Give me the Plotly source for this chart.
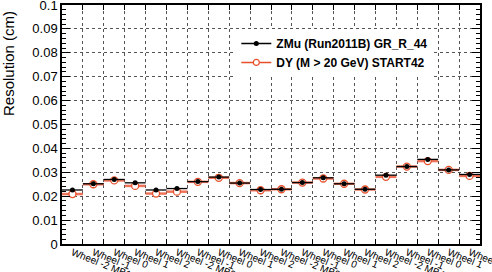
import numpy as np
import plotly.graph_objects as go

labels = ["Wheel -2 MB1", "Wheel -1", "Wheel 0", "Wheel 1", "Wheel 2",
          "Wheel -2 MB2", "Wheel -1", "Wheel 0", "Wheel 1", "Wheel 2",
          "Wheel -2 MB3", "Wheel -1", "Wheel 0", "Wheel 1", "Wheel 2",
          "Wheel -2 MB4", "Wheel -1", "Wheel 0", "Wheel 1", "Wheel 2"]

zmu = [0.0226, 0.0252, 0.0270, 0.0256, 0.0226,
       0.0232, 0.0261, 0.0280, 0.0255, 0.0228,
       0.0229, 0.0257, 0.0277, 0.0252, 0.0229,
       0.0288, 0.0324, 0.0354, 0.0310, 0.0291]

dy = [0.0209, 0.0250, 0.0266, 0.0243, 0.0211,
      0.0219, 0.0260, 0.0277, 0.0255, 0.0225,
      0.0229, 0.0257, 0.0274, 0.0252, 0.0228,
      0.0281, 0.0324, 0.0347, 0.0310, 0.0285]

y_tickvals = [0.0, 0.01, 0.02, 0.03, 0.04, 0.05, 0.06, 0.07, 0.08, 0.09, 0.1]
y_ticktext = ["0", "0.01", "0.02", "0.03", "0.04", "0.05", "0.06", "0.07", "0.08", "0.09", "0.1"]

name_zmu = "ZMu (Run2011B) GR_R_44"
name_dy = "DY (M > 20 GeV) START42"

nb = len(labels)
centers = np.arange(nb) + 0.5
halfw = [0.5] * nb
edges = list(range(nb + 1))

RED = "#e8502a"
FONT = "Liberation Sans, Arial, Helvetica, sans-serif"

fig = go.Figure()

# DY (drawn first)
fig.add_trace(go.Scatter(
    x=centers, y=dy, mode="markers", showlegend=False,
    marker=dict(symbol="circle", size=7, color="white", line=dict(color=RED, width=1.3)),
    error_x=dict(type="data", array=halfw, color="rgba(235,90,60,0.85)", thickness=2.5, width=0),
    xaxis="x", yaxis="y"))
# ZMu
fig.add_trace(go.Scatter(
    x=centers, y=zmu, mode="markers", showlegend=False,
    marker=dict(symbol="circle", size=5, color="black"),
    error_x=dict(type="data", array=halfw, color="black", thickness=1.3, width=0),
    xaxis="x", yaxis="y"))

# legend entries
fig.add_trace(go.Scatter(x=[None], y=[None], mode="lines+markers", name=name_zmu,
                         line=dict(color="black", width=1.5),
                         marker=dict(symbol="circle", size=5, color="black")))
fig.add_trace(go.Scatter(x=[None], y=[None], mode="lines+markers", name=name_dy,
                         line=dict(color=RED, width=1.5),
                         marker=dict(symbol="circle", size=6, color="white", line=dict(color=RED, width=1.2))))

# tick labels axis
fig.add_trace(go.Scatter(x=centers, y=zmu, mode="markers", showlegend=False,
                         marker=dict(opacity=0), hoverinfo="skip", xaxis="x2", yaxis="y"))

fig.update_layout(
    width=492, height=272,
    margin=dict(l=62, r=12, t=5, b=28, autoexpand=False),
    plot_bgcolor="white", paper_bgcolor="white",
    font=dict(family=FONT, color="black"),
    xaxis=dict(range=[0, nb], tickmode="array", tickvals=edges, ticktext=[""] * len(edges),
               ticks="inside", ticklen=5, tickcolor="black", tickwidth=1,
               showgrid=True, gridcolor="#555555", griddash="dot", gridwidth=1,
               showline=True, linecolor="black", linewidth=1.5, mirror="ticks",
               zeroline=False, automargin=False),
    xaxis2=dict(range=[0, nb], overlaying="x", side="bottom", tickmode="array",
                tickvals=centers, ticktext=labels, tickangle=22, ticks="",
                showgrid=False, showline=False, zeroline=False, ticklabeloverflow="allow",
                tickfont=dict(size=10, family=FONT, color="black"), automargin=False),
    yaxis=dict(range=[0, 0.1], tickmode="array", tickvals=y_tickvals, ticktext=y_ticktext,
               ticks="inside", ticklen=8, tickcolor="black", tickwidth=1,
               minor=dict(ticks="inside", ticklen=4, tickmode="linear", tick0=0, dtick=0.002,
                          tickcolor="black", showgrid=False),
               showgrid=True, gridcolor="#555555", griddash="dot", gridwidth=1,
               showline=True, linecolor="black", linewidth=1.5, mirror="ticks",
               zeroline=False, ticklabeloverflow="allow",
               tickfont=dict(size=13, family=FONT), automargin=False),
    legend=dict(x=0.417, y=0.90, xanchor="left", yanchor="top",
                bgcolor="white", borderwidth=0,
                font=dict(size=12, family=FONT, color="black", weight="bold"),
                tracegroupgap=0),
    annotations=[dict(text="Resolution (cm)", textangle=-90, xref="paper", yref="paper",
                      x=-(62 - 8) / 418, y=(244 - 64) / 239, xanchor="center", yanchor="middle",
                      showarrow=False, font=dict(size=15, family=FONT, color="black"))],
)

fig.write_html("out.html")
